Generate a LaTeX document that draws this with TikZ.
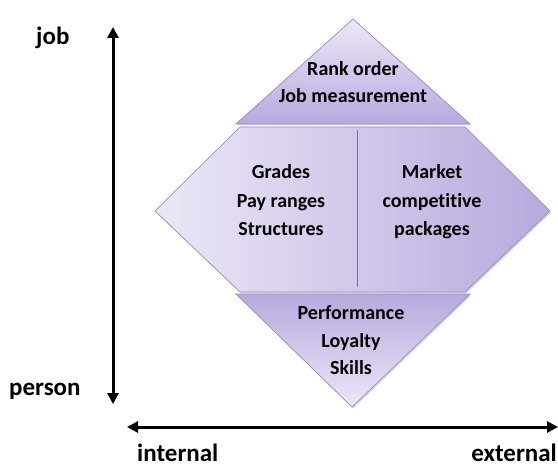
\documentclass[tikz,border=0pt]{standalone}
\usepackage{fontspec}
\setmainfont{Carlito}[Ligatures=NoCommon]
\usetikzlibrary{arrows.meta,shadows}
\definecolor{lavlight}{HTML}{ECE7F7}
\definecolor{lavdark}{HTML}{B8A9DE}
\definecolor{lavedge}{HTML}{9A8CC4}
\tikzset{
  region/.style={draw=lavedge, line width=0.7bp, line join=miter,
    drop shadow={shadow xshift=1.2bp, shadow yshift=-1.5bp, opacity=0.25, fill=black!60}},
  inner/.style={font=\fontsize{20bp}{24bp}\selectfont\bfseries, anchor=base, inner sep=0pt},
  axislabel/.style={font=\fontsize{25bp}{30bp}\selectfont\bfseries, inner sep=0pt},
  axis/.style={line width=3bp, {Triangle[length=11bp,width=11bp]}-{Triangle[length=11bp,width=11bp]}}
}
\begin{document}
\begin{tikzpicture}[x=1bp,y=-1bp]
\useasboundingbox (0,0) rectangle (558,467);
% top triangle
\path[region, top color=lavlight, bottom color=lavdark] (353,19) -- (470,124) -- (236,124) -- cycle;
% middle hexagon
\path[region, left color=lavlight, right color=lavdark] (240,127) -- (465,127) -- (550,211) -- (465,292) -- (240,292) -- (155,211) -- cycle;
% bottom triangle
\path[region, top color=lavdark, bottom color=lavlight] (236,294) -- (470,294) -- (352,407) -- cycle;
% divider
\coordinate (dtop) at (357,130);
\coordinate (dbot) at (357,287);
\draw[lavedge!80!black, line width=0.8bp] (dtop) -- (dbot);
% texts
\node[inner] (t1) at (353,76) {Rank order};
\node[inner] (t2) at (353,103) {Job measurement};
\node[inner] (l1) at (281,179) {Grades};
\node[inner] (l2) at (281,208) {Pay ranges};
\node[inner] (l3) at (281,236) {Structures};
\node[inner] (r1) at (432,179) {Market};
\node[inner] (r2) at (432,208) {competitive};
\node[inner] (r3) at (432,236) {packages};
\node[inner] (b1) at (351,319) {Performance};
\node[inner] (b2) at (351,347) {Loyalty};
\node[inner] (b3) at (351,374) {Skills};
% axes
\coordinate (vtop) at (113,27);
\coordinate (vbot) at (113,404);
\coordinate (hleft) at (127,427);
\coordinate (hright) at (558,427);
\draw[axis] (vbot) -- (vtop);
\draw[axis] (hleft) -- (hright);
\node[axislabel, anchor=base west] (job) at (36,45) {job};
\node[axislabel, anchor=base west] (person) at (9,395) {person};
\node[axislabel, anchor=base west] (internal) at (137,461) {internal};
\node[axislabel, anchor=base east] (external) at (557,461) {external};
\end{tikzpicture}
\end{document}
